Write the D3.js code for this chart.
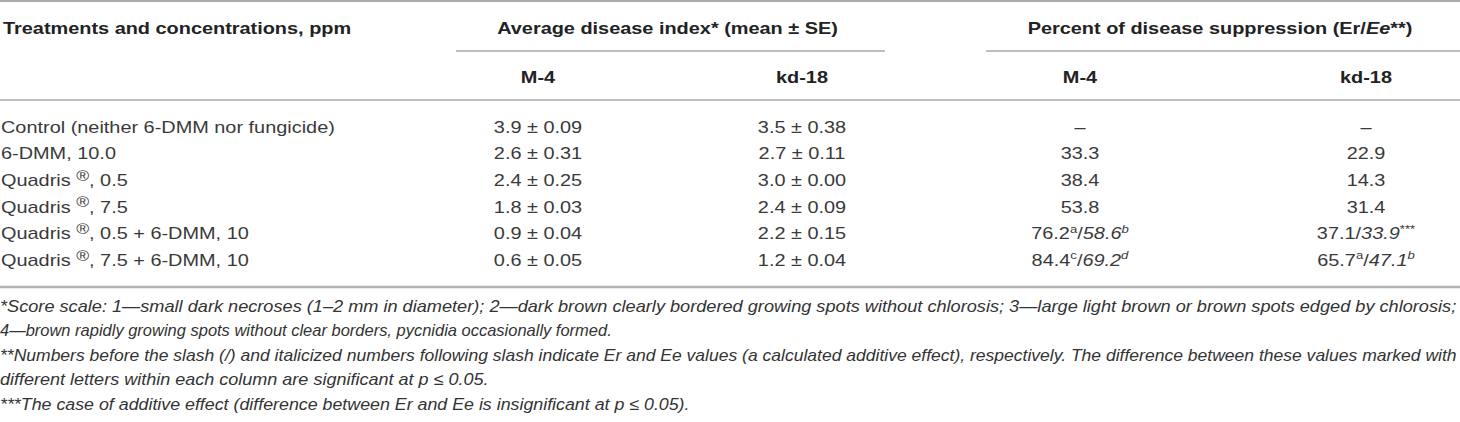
<!DOCTYPE html>
<html>
<head>
<meta charset="utf-8">
<script src="https://cdn.jsdelivr.net/npm/d3@7"></script>
<style>
  html, body { margin: 0; padding: 0; background: #fff; }
  svg { display: block; font-family: "Liberation Sans", Arial, sans-serif; }
</style>
</head>
<body>
<svg id="tbl" width="1460" height="422"></svg>
<script>
// markup: ^...^ superscript, ~...~ italic
const treatments = [
  'Control (neither 6-DMM nor fungicide)',
  '6-DMM, 10.0',
  'Quadris ^®^, 0.5',
  'Quadris ^®^, 7.5',
  'Quadris ^®^, 0.5 + 6-DMM, 10',
  'Quadris ^®^, 7.5 + 6-DMM, 10',
];
const m4Mean   = [3.9, 2.6, 2.4, 1.8, 0.9, 0.6];
const m4SE     = [0.09, 0.31, 0.25, 0.03, 0.04, 0.05];
const kd18Mean = [3.5, 2.7, 3.0, 2.4, 2.2, 1.2];
const kd18SE   = [0.38, 0.11, 0.00, 0.09, 0.15, 0.04];

const m4Er       = [null, 33.3, 38.4, 53.8, 76.2, 84.4];
const m4ErMark   = ['', '', '', '', 'a', 'c'];
const m4Ee       = [null, null, null, null, 58.6, 69.2];
const m4EeMark   = ['', '', '', '', 'b', 'd'];
const kd18Er     = [null, 22.9, 14.3, 31.4, 37.1, 65.7];
const kd18ErMark = ['', '', '', '', '', 'a'];
const kd18Ee     = [null, null, null, null, 33.9, 47.1];
const kd18EeMark = ['', '', '', '', '***', 'b'];

const groupHeaders = ['Average disease index* (mean ± SE)', 'Percent of disease suppression (Er/~Ee~**)'];
const strainHeaders = ['M-4', 'kd-18', 'M-4', 'kd-18'];
const firstHeader = 'Treatments and concentrations, ppm';

const footnotes = [
  '*Score scale: 1—small dark necroses (1–2 mm in diameter); 2—dark brown clearly bordered growing spots without chlorosis; 3—large light brown or brown spots edged by chlorosis;',
  '4—brown rapidly growing spots without clear borders, pycnidia occasionally formed.',
  '**Numbers before the slash (/) and italicized numbers following slash indicate Er and Ee values (a calculated additive effect), respectively. The difference between these values marked with',
  'different letters within each column are significant at p ≤ 0.05.',
  '***The case of additive effect (difference between Er and Ee is insignificant at p ≤ 0.05).',
];
// set widths of the footnote lines in the source (condensed italic)
const noteWidths = [1457, 612, 1457, 489, 690];

const W = 1460;
const SX = 1.17;          // source type is set wider than Liberation Sans
const FS = 17;
const ruleColor = '#a8a8a8';

const svg = d3.select('#tbl');

function parseRich(s) {
  const out = [];
  let sup = false, it = false, buf = '';
  const flush = () => { if (buf) out.push({ text: buf, sup, it }); buf = ''; };
  for (const ch of s) {
    if (ch === '^') { flush(); sup = !sup; }
    else if (ch === '~') { flush(); it = !it; }
    else buf += ch;
  }
  flush();
  return out;
}

function richText(x, y, str, o) {
  const fs = o.size || FS;
  const g = svg.append('g')
    .attr('transform', `translate(${x},${y}) scale(${o.sx || SX},1)`);
  const t = g.append('text')
    .attr('text-anchor', o.anchor || 'start')
    .attr('dy', '0.35em')
    .attr('font-size', fs)
    .attr('font-weight', o.weight || 'normal')
    .attr('font-style', o.italic ? 'italic' : 'normal')
    .attr('fill', o.color || '#3a3a3a');
  let lift = 0;
  parseRich(str).forEach(seg => {
    const ts = t.append('tspan').text(seg.text);
    if (seg.it) ts.attr('font-style', 'italic');
    const want = seg.sup ? (seg.text === '®' ? fs * 0.33 : fs * 0.4) : 0;
    if (want !== lift) { ts.attr('dy', lift - want); lift = want; }
    if (seg.sup) ts.attr('font-size', seg.text === '®' ? fs * 0.88 : fs * 0.66);
  });
  return t;
}

function pctCell(er, erMark, ee, eeMark) {
  if (er == null) return '–';
  let s = er.toFixed(1);
  if (erMark) s += `^${erMark}^`;
  if (ee != null) {
    s += `/~${ee.toFixed(1)}~`;
    if (eeMark) s += /^\*+$/.test(eeMark) ? `^${eeMark}^` : `^~${eeMark}~^`;
  }
  return s;
}

// scales
const rowY = d3.scaleBand().domain(d3.range(treatments.length)).range([113.5, 273.5]);
const colKeys = ['m4Avg', 'kdAvg', 'm4Pct', 'kdPct'];
const colX = d3.scaleOrdinal().domain(colKeys).range([538, 802, 1080, 1366]);
const groupSpan = [[456, 885], [986, W]];
const noteY = d3.scalePoint().domain(d3.range(footnotes.length)).range([306, 404]);

// rules
const rules = [
  { y: 1, x1: 0, x2: W, w: 1.6, c: '#8f8f8f' },
  { y: 51, x1: groupSpan[0][0], x2: groupSpan[0][1], w: 1.3, c: ruleColor },
  { y: 51, x1: groupSpan[1][0], x2: groupSpan[1][1], w: 1.3, c: ruleColor },
  { y: 100, x1: 0, x2: W, w: 1.6, c: ruleColor },
  { y: 287, x1: 0, x2: W, w: 2.4, c: '#b4b4b4' },
];
svg.selectAll('line.rule').data(rules).join('line')
  .attr('class', 'rule')
  .attr('x1', d => d.x1).attr('x2', d => d.x2)
  .attr('y1', d => d.y).attr('y2', d => d.y)
  .attr('stroke', d => d.c).attr('stroke-width', d => d.w);

// header
const hdr = { weight: 'bold', color: '#222', anchor: 'middle' };
richText(3, 28, firstHeader, { ...hdr, anchor: 'start' });
groupHeaders.forEach((h, i) => richText((groupSpan[i][0] + groupSpan[i][1]) / 2 - 3, 28, h, hdr));
strainHeaders.forEach((h, i) => richText(colX(colKeys[i]), 77, h, hdr));

// body
treatments.forEach((tr, i) => {
  const y = rowY(i) + rowY.bandwidth() / 2;
  richText(1, y, tr, {});
  richText(colX('m4Avg'), y, `${m4Mean[i].toFixed(1)} ± ${m4SE[i].toFixed(2)}`, { anchor: 'middle' });
  richText(colX('kdAvg'), y, `${kd18Mean[i].toFixed(1)} ± ${kd18SE[i].toFixed(2)}`, { anchor: 'middle' });
  richText(colX('m4Pct'), y, pctCell(m4Er[i], m4ErMark[i], m4Ee[i], m4EeMark[i]), { anchor: 'middle' });
  richText(colX('kdPct'), y, pctCell(kd18Er[i], kd18ErMark[i], kd18Ee[i], kd18EeMark[i]), { anchor: 'middle' });
});

// footnotes: each line squeezed/stretched to its width in the source
const noteFS = 16.5;
footnotes.forEach((n, i) => {
  const t = richText(0, noteY(i), n, { italic: true, size: noteFS, sx: 1, color: '#333' });
  const len = t.node().getComputedTextLength();
  d3.select(t.node().parentNode)
    .attr('transform', `translate(0,${noteY(i)}) scale(${noteWidths[i] / len},1)`);
});
</script>
</body>
</html>
